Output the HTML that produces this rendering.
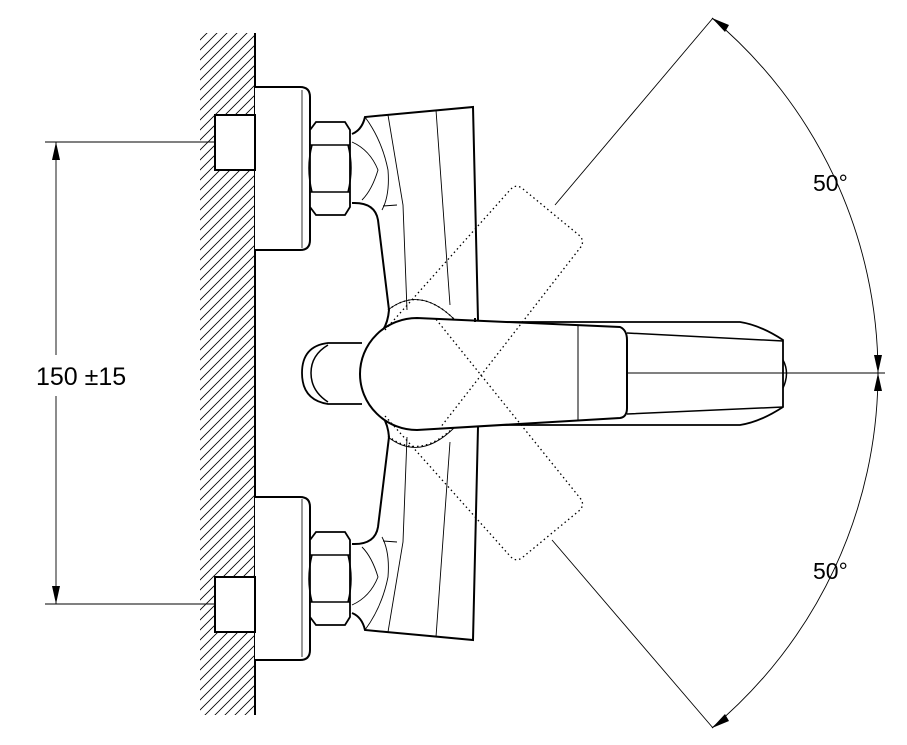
<!DOCTYPE html>
<html><head><meta charset="utf-8"><style>
html,body{margin:0;padding:0;background:#fff;}
svg{display:block;}
text{font-family:"Liberation Sans",Arial,sans-serif;fill:#000;}
</style></head><body>
<svg width="907" height="745" viewBox="0 0 907 745" xmlns="http://www.w3.org/2000/svg">
<defs>
<pattern id="h" width="10" height="10" patternUnits="userSpaceOnUse">
<path d="M-2,12 L12,-2 M-2,2 L2,-2 M8,12 L12,8" stroke="#000" stroke-width="0.8"/>
</pattern>
<clipPath id="c"><rect x="200" y="33" width="55" height="682"/></clipPath>
<g id="half">
<path d="M255,87 H300 Q310,87 310,97 V240 Q310,250 300,250 H255" fill="#fff" stroke="#000" stroke-width="2"/>
<line x1="302" y1="90" x2="302" y2="248" stroke="#000" stroke-width="0.8"/>
<rect x="215" y="115" width="40" height="55" fill="#fff" stroke="#000" stroke-width="2"/>
<path d="M316,122 H345 L350,130 V207 L345,215 H316 L310,207 V130 Z" fill="#fff" stroke="#000" stroke-width="1.8"/>
<path d="M310,145 H350 M310,192 H350 M312,145 Q306,168 312,192 M348,145 Q354,168 348,192" fill="none" stroke="#000" stroke-width="1.5"/>
<path d="M352,134 Q362,130 365,117 L473,107 L478,320" fill="none" stroke="#000" stroke-width="2"/>
<path d="M352,203 Q375,202 378,220 L389,310 Q388,322 383,330" fill="none" stroke="#000" stroke-width="2"/>
<path d="M365,117 Q382,140 388,170 Q390,195 382,210 M352,142 Q370,150 378,170 Q372,190 362,200 M388,115 L403,205 L407,310 M436,110 L450,305 M383,206 L397,205" fill="none" stroke="#000" stroke-width="0.9"/>
<path d="M388,310 Q420,285 455,320" fill="none" stroke="#000" stroke-width="0.9"/>
</g>
</defs>
<rect x="200" y="33" width="55" height="682" fill="url(#h)" clip-path="url(#c)"/>
<line x1="255" y1="33" x2="255" y2="715" stroke="#000" stroke-width="2"/>
<use href="#half"/>
<use href="#half" transform="translate(0,747) scale(1,-1)"/>
<path d="M45,142 H215 M45,604 H215 M56,142 V355 M56,396 V604" stroke="#000" stroke-width="0.9" fill="none"/>
<path d="M56,142 L52,160 L60,160 Z M56,604 L52,586 L60,586 Z" fill="#000"/>
<text x="36" y="385" font-size="25">150 ±15</text>
<path d="M362,343 H328 Q302,346 302,373 Q302,400 328,404 H362" fill="#fff" stroke="#000" stroke-width="1.8"/>
<path d="M328,345 Q311,355 311,373 Q311,391 328,402" fill="none" stroke="#000" stroke-width="1.5"/>
<path d="M470,322 H740 Q760,325 783,340 V407 Q760,422 740,425 H470" fill="#fff" stroke="#000" stroke-width="1.8"/>
<path d="M627,333 L783,341 M627,414 L783,407" stroke="#000" stroke-width="1.5"/>
<path d="M783,360 Q790,373 783,388" fill="none" stroke="#000" stroke-width="1.5"/>
<path d="M417,318 L620,327 Q627,330 627,340 V408 Q627,417 620,418 L417,430 A57,56 0 0 1 417,318 Z" fill="#fff" stroke="#000" stroke-width="2"/>
<line x1="578" y1="326" x2="578" y2="421" stroke="#000" stroke-width="1"/>
<line x1="475" y1="318" x2="475" y2="322" stroke="#000" stroke-width="2"/>
<g fill="none" stroke="#000" stroke-width="1.3" stroke-dasharray="1.5,3">
<path d="M385,330 L510,190 Q516,183 523,189 L580,236 Q585,242 580,248 L440,428"/>
<path d="M385,416 L510,556 Q516,563 523,557 L580,510 Q585,504 580,498 L435,318"/>
<path d="M388,310 Q420,285 455,320 M388,436 Q420,461 455,426"/>
</g>
<path d="M555,205 L713,18 M552,540 L713,728 M627,373 H885" stroke="#000" stroke-width="0.9" fill="none"/>
<path d="M712,18 A464,464 0 0 1 878,373 A464,464 0 0 1 712,728" stroke="#000" stroke-width="0.9" fill="none"/>
<path d="M712,18 L725,32 L729,25 Z M878,373 L874,355 L882,355 Z M878,373 L874,391 L882,391 Z M712,728 L725,714 L729,721 Z" fill="#000"/>
<text x="813" y="191" font-size="23">50°</text>
<text x="813" y="579" font-size="23">50°</text>
</svg>
</body></html>
